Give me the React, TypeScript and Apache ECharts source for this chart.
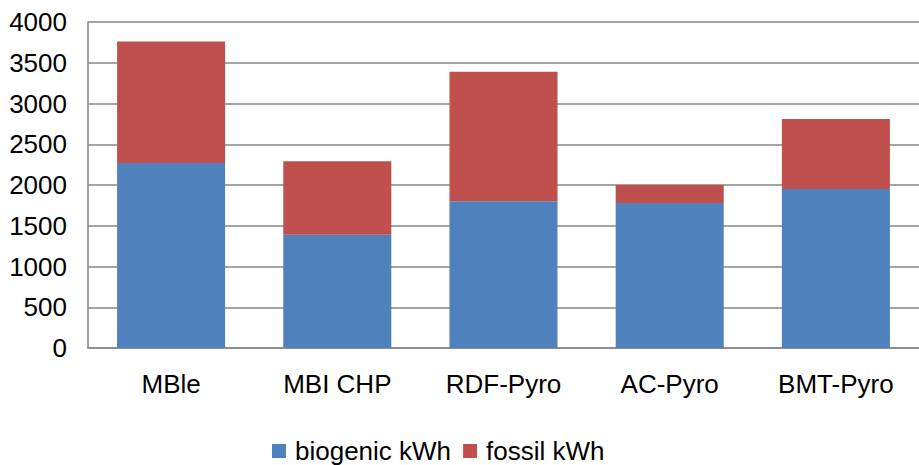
import React, { useEffect, useRef } from "react";
import * as echarts from "echarts";

const categories = ["MBle", "MBI CHP", "RDF-Pyro", "AC-Pyro", "BMT-Pyro"];
const biogenic = [2270, 1390, 1800, 1780, 1950];
const fossil = [1490, 900, 1590, 220, 860];
const seriesNames = ["biogenic kWh", "fossil kWh"];

const FONT = "Liberation Sans, Arial, sans-serif";

export default function App() {
  const ref = useRef<HTMLDivElement>(null);

  useEffect(() => {
    if (!ref.current) return;
    const chart = echarts.init(ref.current, undefined, { renderer: "svg" });
    chart.setOption({
      animation: false,
      backgroundColor: "#ffffff",
      textStyle: { fontFamily: FONT },
      grid: { left: 88, right: 0, top: 22, bottom: 117, containLabel: false },
      legend: {
        top: 438,
        left: 272,
        itemWidth: 14,
        itemHeight: 14,
        itemGap: 12,
        icon: "rect",
        padding: 0,
        textStyle: {
          fontSize: 26,
          lineHeight: 26,
          color: "#000",
          fontFamily: FONT,
          padding: [0, 0, 0, 4],
        },
        data: seriesNames,
      },
      xAxis: {
        type: "category",
        data: categories,
        axisLine: { lineStyle: { color: "#868686", width: 1.5 } },
        axisTick: { show: false },
        axisLabel: { fontSize: 26, color: "#000", margin: 23, fontFamily: FONT },
      },
      yAxis: {
        type: "value",
        min: 0,
        max: 4000,
        interval: 500,
        axisLine: { show: true, lineStyle: { color: "#868686", width: 1.5 } },
        axisTick: { show: false },
        splitLine: { lineStyle: { color: "#868686", width: 1.5 } },
        axisLabel: {
          fontSize: 26,
          color: "#000",
          margin: 21,
          fontFamily: FONT,
          formatter: (v: number) => String(v),
        },
      },
      series: [
        {
          name: seriesNames[0],
          type: "bar",
          stack: "total",
          barWidth: "65%",
          itemStyle: { color: "#4f81bd" },
          data: biogenic,
        },
        {
          name: seriesNames[1],
          type: "bar",
          stack: "total",
          barWidth: "65%",
          itemStyle: { color: "#c0504d" },
          data: fossil,
        },
      ],
    });
    return () => chart.dispose();
  }, []);

  return (
    <div
      ref={ref}
      style={{ position: "fixed", left: 0, top: 0, width: 919, height: 465 }}
    />
  );
}
